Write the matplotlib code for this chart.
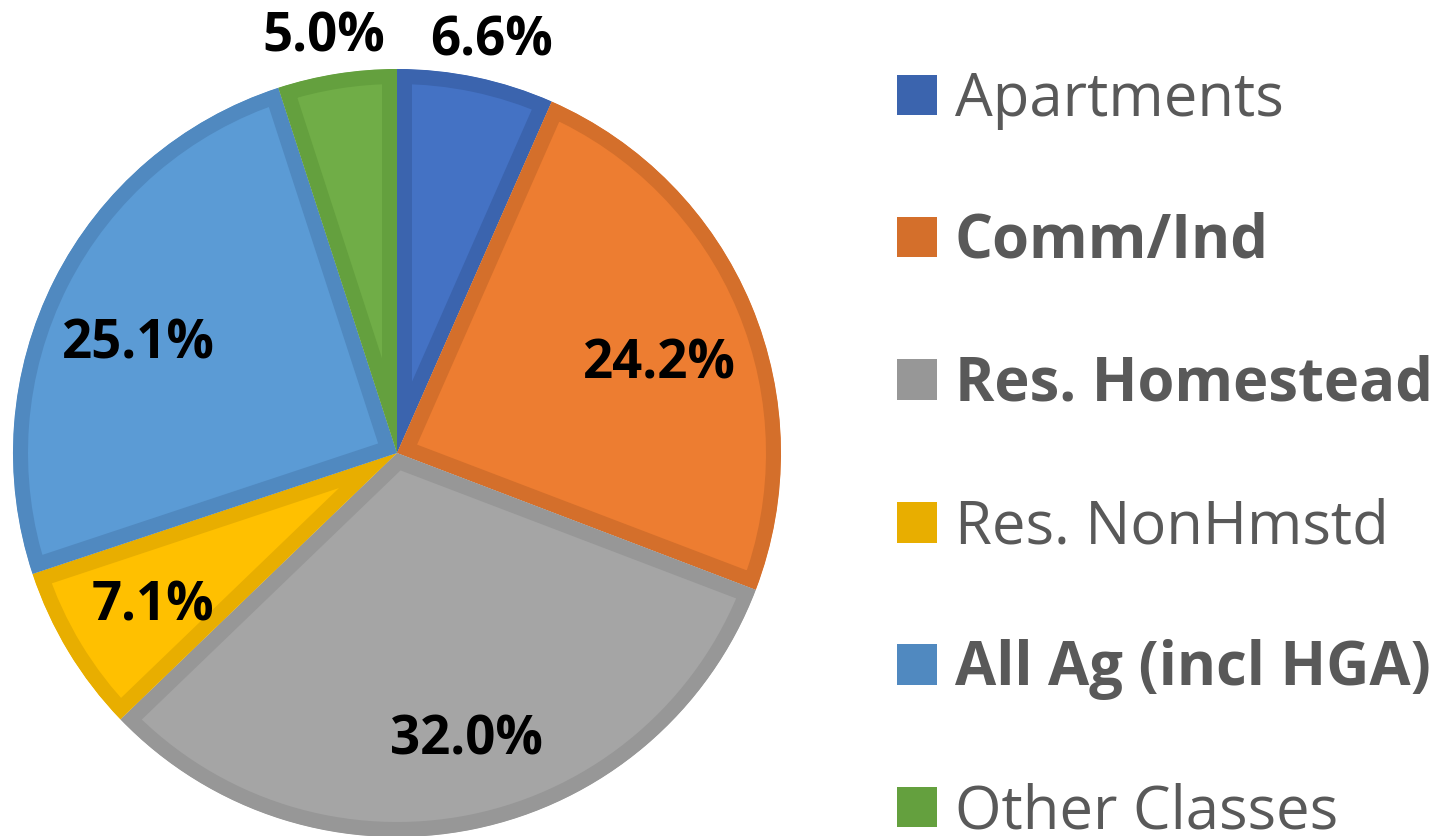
import matplotlib.pyplot as plt
from matplotlib.patches import Patch
import numpy as np

categories = ['Apartments', 'Comm/Ind', 'Res. Homestead', 'Res. NonHmstd',
              'All Ag (incl HGA)', 'Other Classes']
shares = [6.6, 24.2, 32.0, 7.1, 25.1, 5.0]
bold_entries = ['Comm/Ind', 'Res. Homestead', 'All Ag (incl HGA)']

fills = ['#4472C4', '#ED7D31', '#A5A5A5', '#FFC000', '#5B9BD5', '#70AD47']
edges = ['#3B64AE', '#D46F2B', '#979797', '#E8AE00', '#5089C0', '#64A03E']
label_dist = [1.10, 0.72, 0.77, 0.75, 0.73, 1.10]
label_shift = [-1, -4, 2, 1, 4, 1]   # degrees, Excel-like placement

W, H = 1431, 836
fig = plt.figure(figsize=(W / 100, H / 100), dpi=100)

# pie centre (397, 453) px, radius 384 px
cx, cy, r = 397, 453, 384
x0, x1, y0, y1 = -1.05, 1.05, -1.0, 1.2
ax = fig.add_axes([(cx + x0 * r) / W, (H - cy + y0 * r) / H,
                   (x1 - x0) * r / W, (y1 - y0) * r / H])

wedges, _ = ax.pie(shares, colors=fills, startangle=90, counterclock=False,
                   radius=1.0)
for w, ec in zip(wedges, edges):
    w.set_edgecolor(ec)
    w.set_linewidth(21.6)
    w.set_joinstyle('miter')
    w.set_clip_on(True)
    w.set_clip_path(w)

for w, v, d, s in zip(wedges, shares, label_dist, label_shift):
    ang = np.deg2rad((w.theta1 + w.theta2) / 2 + s)
    ax.text(d * np.cos(ang), d * np.sin(ang), f'{v:.1f}%', ha='center',
            va='center', fontsize=38, fontweight='bold', family='Open Sans',
            color='black', clip_on=False)

ax.set_xlim(x0, x1)
ax.set_ylim(y0, y1)
ax.set_aspect('auto')
ax.axis('off')

handles = [Patch(facecolor=ec, edgecolor='none') for ec in edges]
leg = fig.legend(handles, categories, loc='upper left',
                 bbox_to_anchor=(897 / W, 1 - 70 / H), frameon=False,
                 prop={'family': 'Open Sans', 'size': 43},
                 handlelength=0.67, handleheight=0.67, handletextpad=0.3,
                 labelspacing=1.37, borderpad=0, borderaxespad=0)
for t in leg.get_texts():
    t.set_color('#595959')
    if t.get_text() in bold_entries:
        t.set_fontweight('bold')

fig.savefig('out.png', dpi=100)
